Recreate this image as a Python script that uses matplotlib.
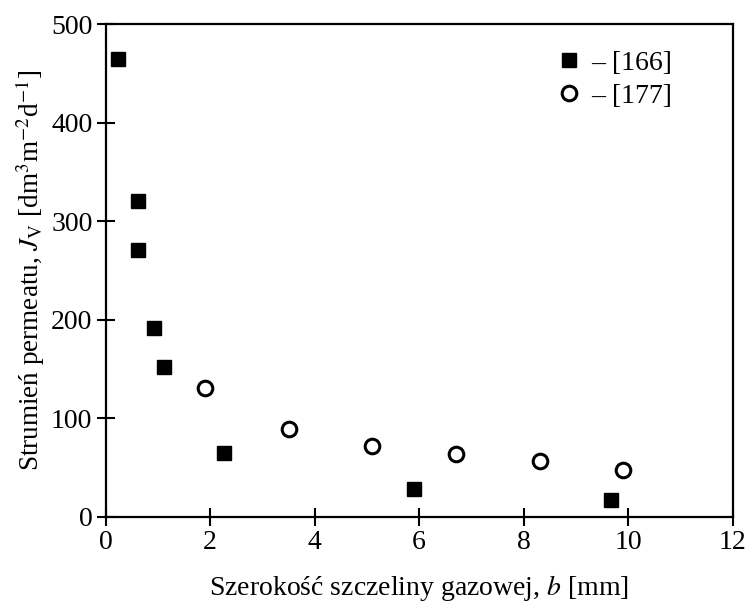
import numpy as np
import matplotlib
matplotlib.use('Agg')
import matplotlib.pyplot as plt

# Data
b_166 = [0.23, 0.62, 0.62, 0.93, 1.11, 2.26, 5.91, 9.68]
jv_166 = [465, 320, 271, 192, 152, 65, 28, 17]

b_177 = [1.90, 3.50, 5.10, 6.71, 8.31, 9.90]
jv_177 = [131, 89, 72, 64, 57, 47]

labels = ['– [166]', '– [177]']
x_ticks = [0, 2, 4, 6, 8, 10, 12]
y_ticks = [0, 100, 200, 300, 400, 500]

plt.rcParams['font.family'] = ['Liberation Serif', 'DejaVu Serif']
plt.rcParams['mathtext.fontset'] = 'stix'

fig = plt.figure(figsize=(7.51, 6.03), dpi=100)
ax = fig.add_axes([0.1407, 0.1431, 0.9756 - 0.1407, 0.960 - 0.1431])

ax.plot(b_166, jv_166, linestyle='none', marker='s', markersize=10.5,
        color='black', label=labels[0])
ax.plot(b_177, jv_177, linestyle='none', marker='o', markersize=10.5,
        markerfacecolor='white', markeredgecolor='black', markeredgewidth=2.2,
        label=labels[1])

ax.set_xlim(0, 12)
ax.set_ylim(0, 500)
ax.set_xticks(x_ticks)
ax.set_yticks(y_ticks)
ax.tick_params(direction='inout', length=13, width=1.5, labelsize=20, pad=3)
for s in ax.spines.values():
    s.set_linewidth(1.6)

ax.set_xlabel('Szerokość szczeliny gazowej, $b$ [mm]', fontsize=20, labelpad=13)
ax.set_ylabel('Strumień permeatu, $J_\\mathrm{V}$ [dm$^3$m$^{-2}$d$^{-1}$]',
              fontsize=19.5, labelpad=3)

ax.legend(loc='upper right', bbox_to_anchor=(0.903, 0.946), frameon=False,
          fontsize=20, handletextpad=0.3, labelspacing=0.25, handlelength=1.0,
          borderpad=0, borderaxespad=0)

fig.savefig('out.png', dpi=100)
